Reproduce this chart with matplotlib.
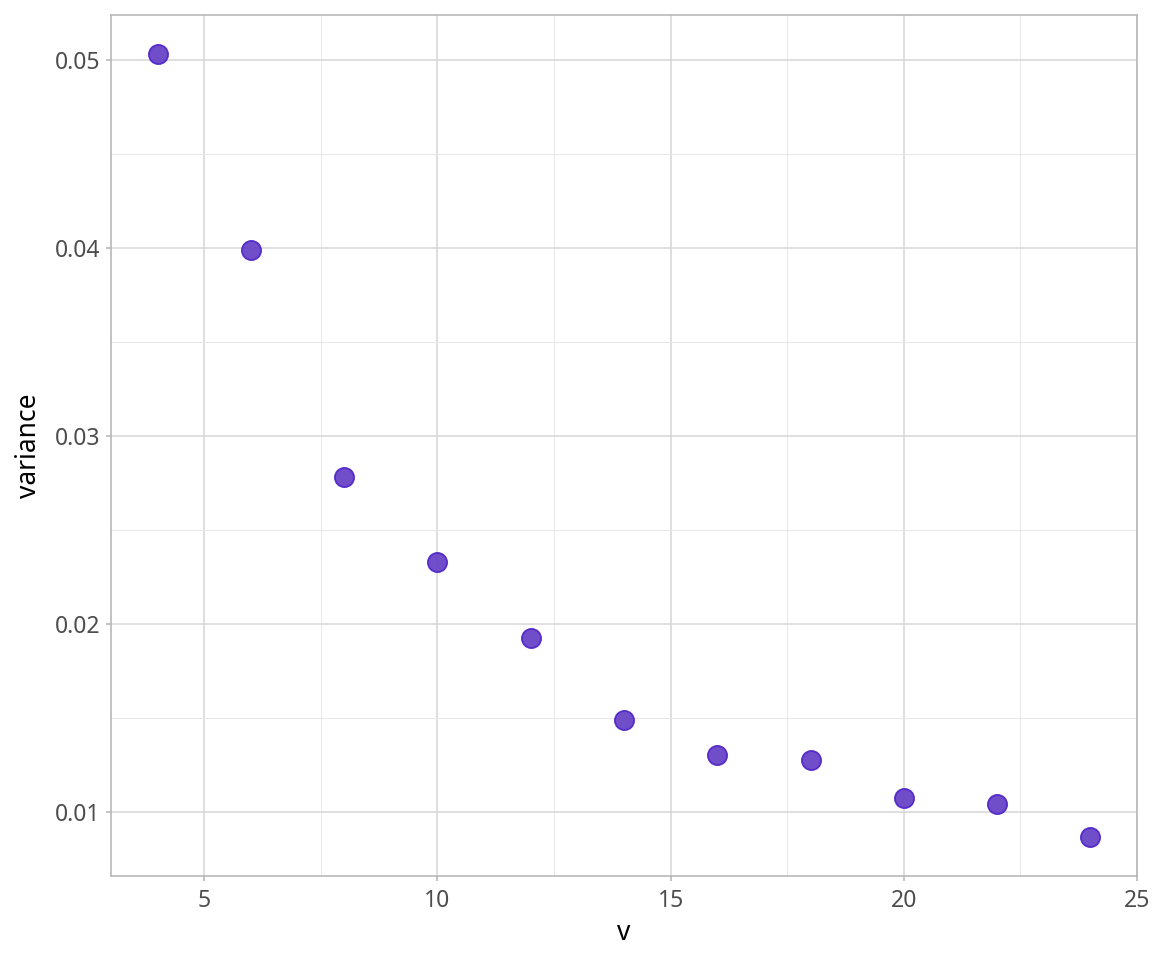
"""Variance vs v — scatter in a light ggplot-like theme."""

import matplotlib

matplotlib.use("Agg")
import matplotlib.pyplot as plt  # noqa: E402
from matplotlib.ticker import MultipleLocator  # noqa: E402

# --------------------------------------------------------------------------- #
# Data
# --------------------------------------------------------------------------- #
V = [4, 6, 8, 10, 12, 14, 16, 18, 20, 22, 24]
VARIANCE = [0.05032, 0.03991, 0.02780, 0.02328, 0.01924, 0.01489,
            0.01303, 0.01276, 0.01074, 0.01042, 0.00867]

X_TICKS = [5, 10, 15, 20, 25]
Y_TICKS = [0.01, 0.02, 0.03, 0.04, 0.05]

FILL = "#6843c6"
EDGE = "#5228c9"
GRID_MAJOR = "#d6d6d6"
GRID_MINOR = "#e8e8e8"
BORDER = "#b3b3b3"
TEXT = "#4d4d4d"

plt.rcParams["font.family"] = ["Noto Sans", "DejaVu Sans"]

fig = plt.figure(figsize=(11.52, 9.6), dpi=100)
ax = fig.add_axes([0.0964, 0.0875, 0.8906, 0.8969])

ax.scatter(V, VARIANCE, s=190, color=FILL, alpha=0.95, edgecolors=EDGE,
           linewidths=1.3, zorder=3)

# ggplot-style 5% expansion
xr = max(V) - min(V)
yr = max(VARIANCE) - min(VARIANCE)
ax.set_xlim(min(V) - 0.05 * xr, max(V) + 0.05 * xr)
ax.set_ylim(min(VARIANCE) - 0.05 * yr, max(VARIANCE) + 0.05 * yr)

ax.set_xticks(X_TICKS)
ax.set_yticks(Y_TICKS)
ax.set_yticklabels([f"{t:.2f}" for t in Y_TICKS])
ax.xaxis.set_minor_locator(MultipleLocator(2.5))
ax.yaxis.set_minor_locator(MultipleLocator(0.005))

ax.grid(True, which="major", color=GRID_MAJOR, linewidth=1.1, zorder=0)
ax.grid(True, which="minor", color=GRID_MINOR, linewidth=0.7, zorder=0)
ax.set_axisbelow(True)

for sp in ax.spines.values():
    sp.set_color(BORDER)
    sp.set_linewidth(1.1)

ax.tick_params(which="major", length=3.5, width=1.1, color=BORDER,
               labelsize=16.5, labelcolor=TEXT)
ax.tick_params(axis="x", which="major", pad=6)
ax.tick_params(axis="y", which="major", pad=4)
ax.tick_params(which="minor", length=0)

ax.set_xlabel("v", fontsize=19, color="black", labelpad=4)
ax.set_ylabel("variance", fontsize=19, color="black", labelpad=9)

fig.savefig("out.png", dpi=100)
plt.close(fig)
